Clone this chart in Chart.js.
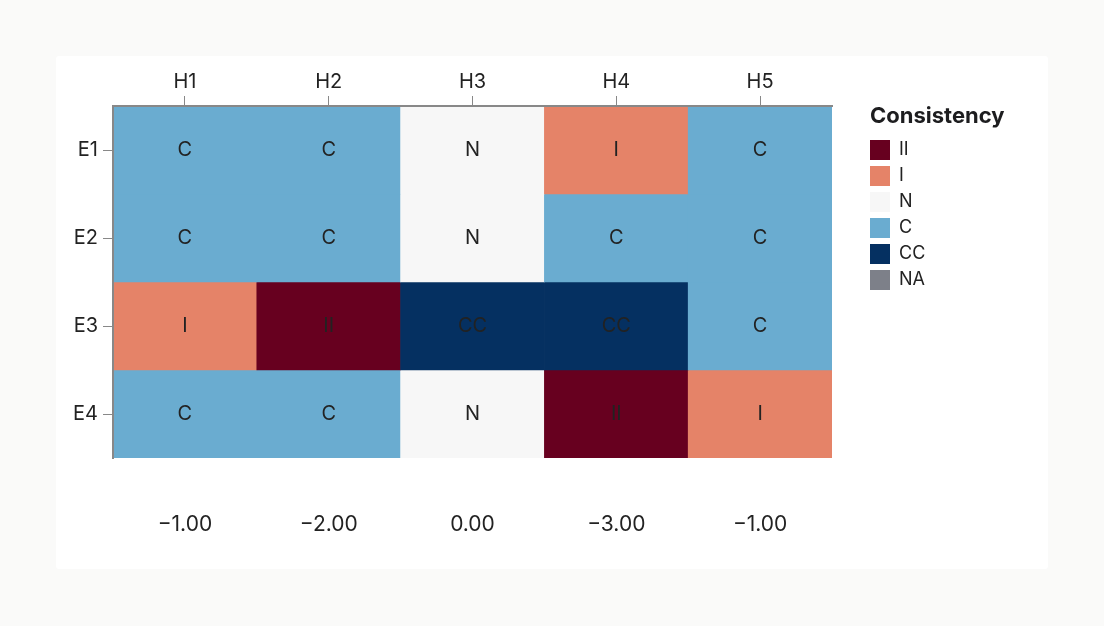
<!DOCTYPE html>
<html>
<head>
<meta charset="utf-8">
<script src="https://cdn.jsdelivr.net/npm/chart.js@4"></script>
<style>
  body { margin: 0; background: #fafaf9; }
  #card {
    position: absolute;
    left: 56px;
    top: 56px;
    width: 992px;
    height: 513px;
    background: #ffffff;
    border-radius: 3px;
  }
</style>
</head>
<body>
<div id="card"><canvas id="heatmap"></canvas></div>
<script>
const columns = ["H1", "H2", "H3", "H4", "H5"];
const rows = ["E1", "E2", "E3", "E4"];
const cellCodes = [
  ["C", "C", "N", "I", "C"],
  ["C", "C", "N", "C", "C"],
  ["I", "II", "CC", "CC", "C"],
  ["C", "C", "N", "II", "I"],
];
const columnScores = [-1, -2, 0, -3, -1];
const categories = ["II", "I", "N", "C", "CC", "NA"];
const categoryColors = ["#67001f", "#e58368", "#f7f7f7", "#6aacd0", "#053061", "#7d8089"];
const legendTitle = "Consistency";

const textColor = "#222222";
const axisColor = "#888888";

Chart.defaults.font.family = "Inter";
Chart.defaults.font.size = 20;
Chart.defaults.color = textColor;

function colorFor(code) {
  return categoryColors[categories.indexOf(code)];
}

function formatScore(v) {
  return v.toFixed(2).replace("-", "\u2212");
}

// each row is one stacked dataset, one unit tall
const datasets = rows.map((row, i) => ({
  label: row,
  data: columns.map(() => 1),
  codes: cellCodes[i],
  backgroundColor: cellCodes[i].map(colorFor),
  borderWidth: 0,
  barPercentage: 1,
  categoryPercentage: 1,
}));

// write the category code in the middle of each cell
const cellText = {
  id: "cellText",
  afterDatasetsDraw(chart) {
    const ctx = chart.ctx;
    ctx.save();
    ctx.font = "20px Inter";
    ctx.fillStyle = textColor;
    ctx.textAlign = "center";
    ctx.textBaseline = "middle";
    chart.data.datasets.forEach((ds, i) => {
      chart.getDatasetMeta(i).data.forEach((bar, j) => {
        const p = bar.getProps(["x", "y", "base"], true);
        ctx.fillText(ds.codes[j], p.x, (p.y + p.base) / 2);
      });
    });
    ctx.restore();
  },
};

// legend title lined up with the swatches
const legendHeading = {
  id: "legendHeading",
  afterDraw(chart) {
    const lg = chart.legend;
    const ctx = chart.ctx;
    ctx.save();
    ctx.font = "bold 22px Inter";
    ctx.fillStyle = "#1d1d1f";
    ctx.textAlign = "left";
    ctx.textBaseline = "middle";
    ctx.fillText(legendTitle, lg.left + lg.options.labels.padding, lg.top + 60);
    ctx.restore();
  },
};

new Chart(document.getElementById("heatmap"), {
  type: "bar",
  data: {
    labels: columns,
    datasets: datasets,
  },
  options: {
    responsive: true,
    maintainAspectRatio: false,
    animation: false,
    events: [],
    layout: { padding: { top: 0, bottom: 0, left: 0, right: 118 } },
    scales: {
      x: {
        position: "top",
        stacked: true,
        offset: true,
        grid: {
          offset: false,
          drawOnChartArea: false,
          drawTicks: true,
          tickLength: 10,
          color: axisColor,
        },
        border: { display: true, color: axisColor, width: 2, z: 1 },
        ticks: { padding: 2, maxRotation: 0 },
        afterFit: (s) => { s.height = 50; },
      },
      x2: {
        type: "category",
        position: "bottom",
        labels: columnScores.map(formatScore),
        offset: true,
        grid: { display: false, drawTicks: false },
        border: { display: false },
        ticks: { padding: 54, maxRotation: 0, font: { size: 21 } },
        afterFit: (s) => { s.height = 111; },
      },
      y: {
        type: "linear",
        position: "left",
        stacked: true,
        reverse: true,
        min: 0,
        max: rows.length,
        grid: {
          drawOnChartArea: false,
          drawTicks: true,
          tickLength: 10,
          color: axisColor,
        },
        border: { display: true, color: axisColor, width: 2, z: 1 },
        afterBuildTicks: (s) => {
          s.ticks = rows.map((r, i) => ({ value: i + 0.5 }));
        },
        ticks: {
          padding: 5,
          callback: (v, i) => rows[i],
        },
        afterFit: (s) => { s.width = 57; },
      },
      gap: {
        type: "linear",
        position: "right",
        grid: { display: false },
        border: { display: false },
        ticks: { display: false },
        afterFit: (s) => { s.width = 32; },
      },
    },
    plugins: {
      tooltip: { enabled: false },
      legend: {
        position: "right",
        align: "start",
        maxWidth: 66,
        onClick: null,
        title: {
          display: true,
          text: " ",
          font: { size: 22, weight: "bold" },
          padding: { top: 47, bottom: 4.6 },
        },
        labels: {
          boxWidth: 20,
          boxHeight: 20,
          padding: 6,
          color: textColor,
          font: { size: 18 },
          generateLabels: () =>
            categories.map((c, i) => ({
              text: c,
              fillStyle: categoryColors[i],
              strokeStyle: categoryColors[i],
              lineWidth: 0,
              fontColor: textColor,
              hidden: false,
              index: i,
            })),
        },
      },
    },
  },
  plugins: [cellText, legendHeading],
});
</script>
</body>
</html>
